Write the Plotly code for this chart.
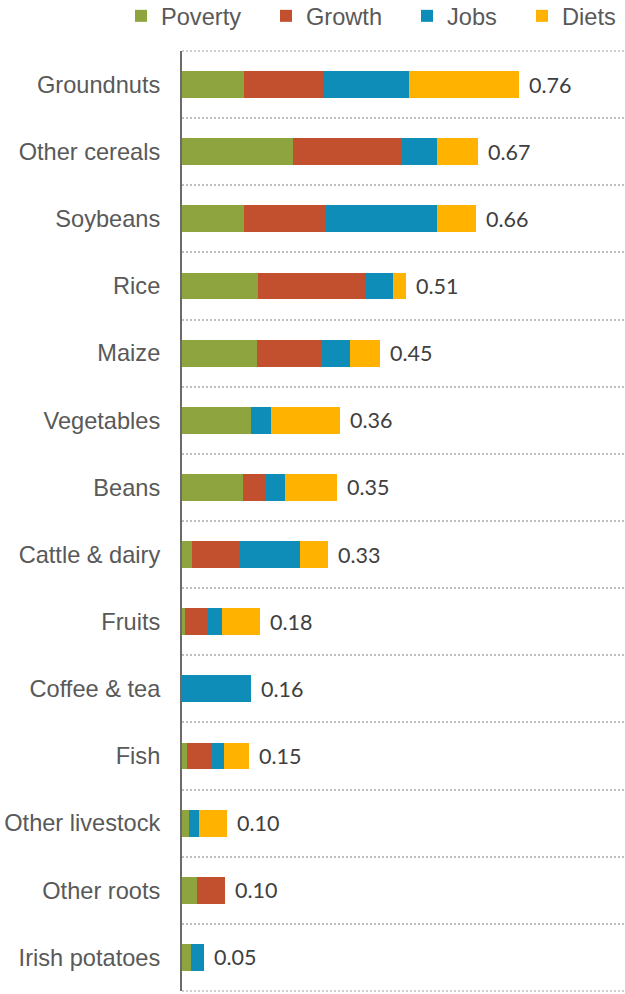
import plotly.graph_objects as go

categories = ["Groundnuts", "Other cereals", "Soybeans", "Rice", "Maize", "Vegetables",
              "Beans", "Cattle & dairy", "Fruits", "Coffee & tea", "Fish",
              "Other livestock", "Other roots", "Irish potatoes"]
poverty = [0.141, 0.250, 0.140, 0.171, 0.169, 0.156, 0.138, 0.023, 0.006, 0.000, 0.011, 0.015, 0.034, 0.020]
growth  = [0.178, 0.247, 0.186, 0.243, 0.147, 0.000, 0.052, 0.107, 0.053, 0.000, 0.057, 0.000, 0.062, 0.000]
jobs    = [0.193, 0.078, 0.250, 0.062, 0.063, 0.045, 0.042, 0.136, 0.031, 0.155, 0.027, 0.023, 0.000, 0.030]
diets   = [0.249, 0.093, 0.087, 0.030, 0.067, 0.155, 0.118, 0.064, 0.086, 0.000, 0.057, 0.063, 0.000, 0.000]
total_labels = ["0.76", "0.67", "0.66", "0.51", "0.45", "0.36", "0.35", "0.33",
                "0.18", "0.16", "0.15", "0.10", "0.10", "0.05"]

series = [("Poverty", poverty, "#8EA43F"),
          ("Growth", growth, "#C24F2E"),
          ("Jobs", jobs, "#0E8DB8"),
          ("Diets", diets, "#FFB200")]

legend_ids = ["legend", "legend2", "legend3", "legend4"]
legend_x_px = [121, 266, 407, 522]

fig = go.Figure()
for (name, vals, color), lid in zip(series, legend_ids):
    fig.add_trace(go.Bar(y=categories, x=vals, name=name, orientation="h", legend=lid,
                         marker=dict(color=color, line=dict(width=0))))

totals = [p + g + j + d for p, g, j, d in zip(poverty, growth, jobs, diets)]
for cat, tot, lab in zip(categories, totals, total_labels):
    fig.add_annotation(x=tot, y=cat, text=lab, showarrow=False, xanchor="left",
                       xshift=8, font=dict(family="Lato", size=21.5, color="#404040"))

grid_style = dict(color="#BFBFBF", width=1.5, dash="2px,2px")
for yy in (0, 1):
    fig.add_shape(type="line", xref="paper", yref="paper", x0=0, x1=1, y0=yy, y1=yy,
                  line=grid_style, layer="below")

legend_common = dict(orientation="h", xref="container", yref="container",
                     y=1 - 16 / 994, xanchor="left", yanchor="middle",
                     font=dict(size=23.6, color="#595959"), bgcolor="rgba(0,0,0,0)")
layout_legends = {lid: dict(legend_common, x=px / 625) for lid, px in zip(legend_ids, legend_x_px)}

fig.update_layout(
    width=625, height=994,
    margin=dict(l=182, r=0, t=51, b=3, autoexpand=False),
    paper_bgcolor="white", plot_bgcolor="white",
    barmode="stack", bargap=0.6,
    font=dict(family="Liberation Sans, Arial", size=23.6, color="#595959"),
    showlegend=True,
    **layout_legends,
)
fig.update_xaxes(range=[0, 1], showgrid=False, zeroline=False, showticklabels=False,
                 showline=False, fixedrange=True)
fig.update_yaxes(type="category", categoryorder="array", categoryarray=categories,
                 range=[13.5, -0.5], tickson="boundaries", ticks="", showgrid=True,
                 gridcolor="#BFBFBF", gridwidth=1.5, griddash="2px,2px",
                 showline=True, linecolor="#6B6B6B", linewidth=2,
                 ticklabelstandoff=15, zeroline=False,
                 tickfont=dict(size=23.6, color="#595959"))

fig.write_html("out.html")
